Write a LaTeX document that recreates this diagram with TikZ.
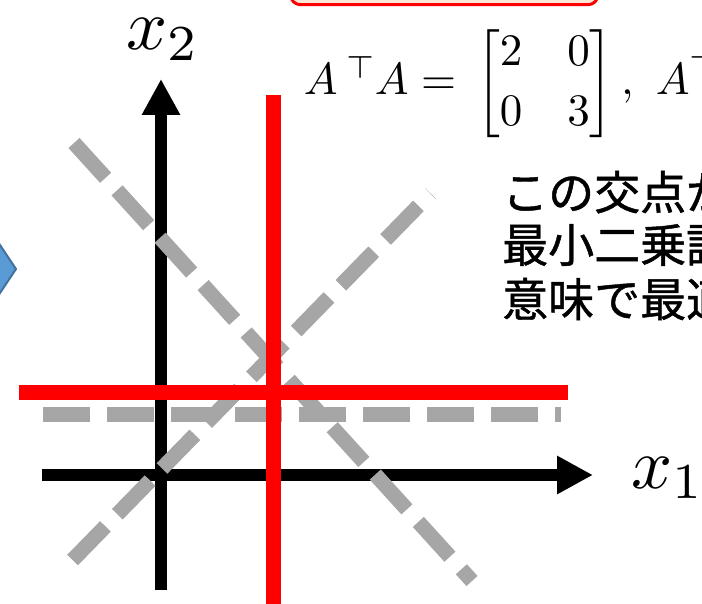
\documentclass[tikz,border=0pt]{standalone}
\usepackage{fontspec}
\usepackage{amsmath}
\newfontfamily\cjk[FakeBold=1]{Noto Sans CJK JP}
\usetikzlibrary{arrows.meta}
\definecolor{dashgray}{RGB}{166,166,166}
\definecolor{arrowblue}{RGB}{91,155,213}
\definecolor{arrowedge}{RGB}{65,113,156}
\definecolor{boxfill}{RGB}{252,230,214}
\begin{document}
\begin{tikzpicture}[x=1pt,y=-1pt,
  axis/.style={line width=12pt,-{Triangle[length=36pt,width=36pt]}},
  guess/.style={dashgray,line width=15pt,dash pattern=on 47pt off 17pt},
  redline/.style={red,line width=15pt},
  jp/.style={inner sep=0pt,anchor=west,font=\cjk\fontsize{46pt}{54pt}\selectfont},
  axlabel/.style={inner sep=0pt,anchor=base west,scale=7.2}]
\useasboundingbox (0,0) rectangle (702,604);
\clip (0,0) rectangle (702,604);
% top box (cropped)
\draw[red,line width=3pt,fill=boxfill,rounded corners=10pt] (290.5,-50) rectangle (598,4.7);
% blue arrow (cropped)
\draw[arrowedge,line width=2pt,fill=arrowblue,line join=miter] (-20,215) -- (16,269) -- (-20,323) -- cycle;
% axes
\coordinate (xs) at (42,475);
\coordinate (xe) at (593,475);
\coordinate (ys) at (161,590);
\coordinate (ye) at (161,79);
\draw[axis] (xs) -- (xe);
\draw[axis] (ys) -- (ye);
% gray dashed lines
\coordinate (h1) at (42.5,414);
\coordinate (h2) at (561,414);
\coordinate (d1a) at (74,143);
\coordinate (d1b) at (472,581);
\coordinate (d2a) at (72.6,560);
\coordinate (d2b) at (430.5,193.5);
\draw[guess] (h1) -- (h2);
\draw[guess] (d1a) -- (d1b);
\draw[guess] (d2a) -- (d2b);
% red lines
\coordinate (r1) at (19,392.5);
\coordinate (r2) at (567.6,392.5);
\coordinate (r3) at (273,95);
\coordinate (r4) at (273,610);
\draw[redline] (r1) -- (r2);
\draw[redline] (r3) -- (r4);
% labels
\node[axlabel] (x1) at (630,488) {$x_1$};
\node[axlabel] (x2) at (125,50) {$x_2$};
\node[inner sep=0pt,anchor=base west,scale=4.5] (eq) at (303,95)
  {$A^{\kern2pt\top}\kern-0.5pt A=\,\renewcommand{\arraystretch}{1.1}\begin{bmatrix}2&0\\0&3\end{bmatrix},\ A^{\top}b$};
\node[jp] (t1) at (502,192) {この交点が};
\node[jp] (t2) at (502,245) {最小二乗誤};
\node[jp] (t3) at (502,299) {意味で最適};
\end{tikzpicture}
\end{document}
